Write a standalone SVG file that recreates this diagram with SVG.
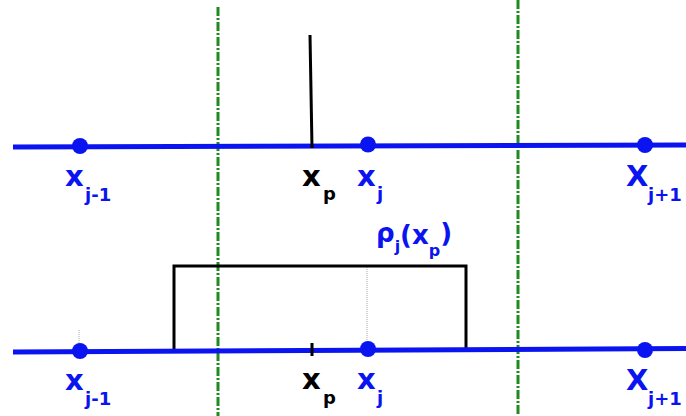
<svg xmlns="http://www.w3.org/2000/svg" width="686" height="416" viewBox="0 0 686 416">
<style>
.axis{stroke:#0a14f0;stroke-width:5;fill:none}
.dot{fill:#0a14f0}
.cell{stroke:#1f8a1f;stroke-width:3;stroke-dasharray:9 2 2 2;fill:none}
.blk{stroke:#000;stroke-width:3;fill:none}
.guide{stroke:#aaa;stroke-width:1;stroke-dasharray:1 1;fill:none}
.lb{font-family:"DejaVu Sans",Verdana,sans-serif;font-weight:bold;fill:#0a14f0}
.lk{font-family:"DejaVu Sans",Verdana,sans-serif;font-weight:bold;fill:#000}
.big{font-size:29px}
.sub{font-size:18px}
</style>
<rect width="686" height="416" fill="#fff"/>
<g id="cell-boundaries">
<line class="cell" x1="218" y1="7" x2="218" y2="416"/>
<line class="cell" x1="518" y1="0" x2="518" y2="416"/>
</g>
<g id="top-axis">
<line class="axis" x1="13" y1="147" x2="686" y2="145"/>
<line class="blk" x1="310" y1="35" x2="312" y2="148"/>
<circle class="dot" cx="80" cy="146" r="8"/>
<circle class="dot" cx="368" cy="144.5" r="8"/>
<circle class="dot" cx="645" cy="145" r="8"/>
<text class="lb big" x="65" y="186">x<tspan class="sub" x="85" y="201">j-1</tspan></text>
<text class="lk big" x="302" y="186">x<tspan class="sub" x="323" y="200">p</tspan></text>
<text class="lb big" x="357" y="186">x<tspan class="sub" x="377" y="200">j</tspan></text>
<text class="lb big" x="626" y="186">X<tspan class="sub" x="648" y="201">j+1</tspan></text>
</g>
<g id="bottom-axis">
<line class="guide" x1="79" y1="330" x2="79" y2="345"/>
<line class="guide" x1="367" y1="267" x2="367" y2="345"/>
<path class="blk" d="M174,350 V266 H466 V350"/>
<line class="axis" x1="13" y1="352" x2="686" y2="348.5"/>
<line class="blk" x1="312" y1="343" x2="312" y2="356"/>
<circle class="dot" cx="80" cy="351" r="8"/>
<circle class="dot" cx="368" cy="349" r="8"/>
<circle class="dot" cx="645" cy="350" r="8"/>
<text class="lb big" x="65" y="390">x<tspan class="sub" x="85" y="405">j-1</tspan></text>
<text class="lk big" x="302" y="389">x<tspan class="sub" x="323" y="404">p</tspan></text>
<text class="lb big" x="357" y="389">x<tspan class="sub" x="377" y="404">j</tspan></text>
<text class="lb big" x="626" y="390">X<tspan class="sub" x="648" y="405">j+1</tspan></text>
<text class="lb" style="font-size:26px" x="376" y="242">ρ<tspan style="font-size:16px" dy="10">j</tspan><tspan dy="-8">(x</tspan><tspan style="font-size:16px" dy="12">p</tspan><tspan dy="-14">)</tspan></text>
</g>
</svg>
